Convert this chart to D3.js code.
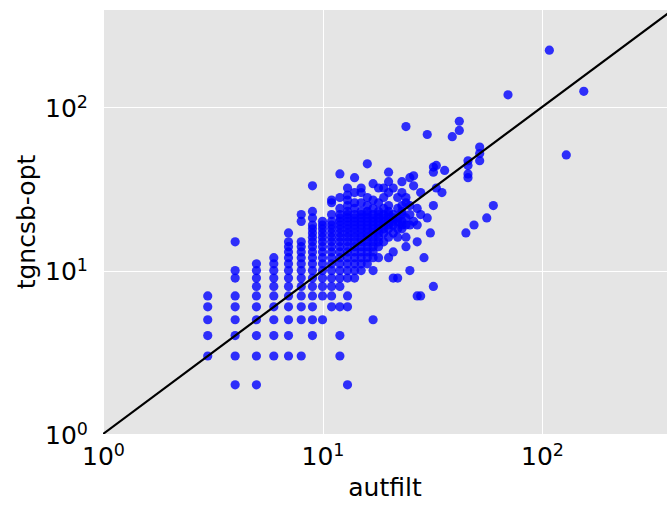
<!DOCTYPE html>
<html lang="en">
  <head>
    <meta charset="UTF-8"/>
    <title>autfilt vs tgncsb-opt</title>
    <script src="https://d3js.org/d3.v7.min.js"></script>
    <style>
      body { margin: 0; background: #fff; }
      text { font-family: 'DejaVu Sans', sans-serif; fill: #000; }
      .tick-label { font-size: 25px; }
      .axis-label { font-size: 25px; }
      .grid line { stroke: #fff; stroke-width: 1px; shape-rendering: crispEdges; }
      .grid path { display: none; }
      circle { fill: blue; fill-opacity: 0.8; }
    </style>
  </head>
  <body>
    <script>
      // autfilt values (x), and for each one the tgncsb-opt values seen (y)
      const columnX = [3, 4, 5, 6, 7, 8, 9, 10, 11, 12, 13, 14, 15, 16, 17, 18, 19, 20,
                       21, 22, 23, 24, 25, 26, 27, 28, 29, 30, 31, 32, 33, 35, 36, 39,
                       42, 45, 46, 49, 52, 56, 60, 70, 108, 129, 155]
      const columnY = [
        [3, 4, 5, 6, 7],
        [2, 3, 4, 5, 6, 7, 9, 10, 15],
        [2, 3, 4, 5, 6, 7, 8, 9, 10, 11],
        [3, 4, 5, 6, 7, 8, 9, 10, 11, 12],
        [3, 4, 5, 6, 7, 8, 9, 10, 11, 12, 13, 14, 15, 17],
        [3, 5, 6, 7, 8, 9, 10, 11, 12, 13, 14, 15, 20, 22],
        [4, 5, 6, 7, 8, 9, 10, 11, 12, 13, 14, 15, 16, 17, 18, 19, 21, 23, 33],
        [5, 7, 8, 9, 10, 11, 12, 13, 14, 15, 16, 17, 18, 19, 20],
        [6, 7, 8, 9, 10, 11, 12, 13, 14, 15, 16, 17, 18, 19, 20, 22, 26, 27],
        [3, 4, 6, 8, 9, 10, 11, 12, 13, 14, 15, 16, 17, 18, 19, 20, 21, 22, 24, 28, 39],
        [2, 6, 7, 9, 10, 11, 12, 13, 14, 15, 16, 17, 18, 19, 20, 21, 22, 23, 25, 27, 29, 32],
        [9, 10, 11, 12, 13, 14, 15, 16, 17, 18, 19, 20, 21, 22, 24, 26, 30, 37],
        [10, 11, 12, 13, 14, 15, 16, 17, 18, 19, 20, 21, 22, 23, 26, 30, 32],
        [11, 12, 13, 14, 15, 16, 17, 18, 19, 20, 21, 22, 23, 25, 28, 45],
        [5, 10, 12, 13, 14, 15, 16, 17, 18, 19, 20, 21, 22, 24, 27, 34],
        [12, 14, 15, 16, 17, 18, 19, 20, 21, 22, 23, 26, 32],
        [15, 17, 18, 19, 20, 21, 22, 24, 28, 32],
        [12, 16, 18, 19, 20, 21, 22, 23, 25, 30, 35, 40],
        [9, 13, 17, 19, 20, 21, 22, 32],
        [9, 16, 18, 20, 21, 24, 28],
        [18, 19, 20, 22, 23, 25, 30, 35],
        [14, 16, 19, 21, 26, 28, 76],
        [10, 19, 22, 25, 37],
        [20, 33, 38],
        [7, 15, 19, 24],
        [7, 22, 30],
        [12],
        [21, 68],
        [17],
        [8, 25, 40, 43],
        [32, 44],
        [30],
        [41],
        [66],
        [72, 82],
        [17],
        [37, 39, 44, 47],
        [19],
        [47, 52, 57],
        [21],
        [25],
        [119],
        [223],
        [51],
        [125]
      ]
      const xDomain = [1, 371]
      const yDomain = [1, 393]
      const decades = [1, 10, 100]
      const xAxisLabel = "autfilt"
      const yAxisLabel = "tgncsb-opt"

      const points = columnX.flatMap((xv, i) => columnY[i].map(yv => ({x: xv, y: yv})))

      const outerWidth = 667,
            outerHeight = 505,
            margin = {top: 10, right: 0, bottom: 71, left: 103},
            width = outerWidth - margin.left - margin.right,
            height = outerHeight - margin.top - margin.bottom

      const svg = d3.select("body").append("svg")
          .attr("width", outerWidth)
          .attr("height", outerHeight)

      const g = svg.append("g")
          .attr("transform", `translate(${margin.left},${margin.top})`)

      const xScale = d3.scaleLog().domain(xDomain).range([0, width])
      const yScale = d3.scaleLog().domain(yDomain).range([height, 0])

      g.append("rect")
          .attr("width", width)
          .attr("height", height)
          .attr("fill", "#e5e5e5")

      // grid lines
      g.append("g")
          .attr("class", "grid")
          .attr("transform", `translate(0,${height})`)
          .call(d3.axisBottom(xScale).tickValues(decades).tickSize(-height).tickFormat(""))

      g.append("g")
          .attr("class", "grid")
          .call(d3.axisLeft(yScale).tickValues(decades).tickSize(-width).tickFormat(""))

      svg.append("clipPath").attr("id", "plot-clip")
        .append("rect")
          .attr("width", width)
          .attr("height", height)

      const plot = g.append("g").attr("clip-path", "url(#plot-clip)")

      plot.selectAll("circle")
          .data(points)
          .join("circle")
          .attr("cx", d => xScale(d.x))
          .attr("cy", d => yScale(d.y))
          .attr("r", 4.6)

      const lineEnd = Math.max(xDomain[1], yDomain[1])
      plot.append("line")
          .attr("x1", xScale(1))
          .attr("y1", yScale(1))
          .attr("x2", xScale(lineEnd))
          .attr("y2", yScale(lineEnd))
          .attr("stroke", "#000")
          .attr("stroke-width", 2.2)

      // power-of-ten tick labels
      const powLabel = (sel, d) => {
        sel.append("tspan").text("10")
        sel.append("tspan")
            .attr("dy", "-0.5em")
            .attr("font-size", "17.5px")
            .text(Math.round(Math.log10(d)))
      }

      const xAxisG = g.append("g")
          .attr("transform", `translate(0,${height})`)
      xAxisG.call(d3.axisBottom(xScale).tickValues(decades).tickSize(0).tickFormat(""))
      xAxisG.select(".domain").remove()
      xAxisG.selectAll(".tick").append("text")
          .attr("class", "tick-label")
          .attr("text-anchor", "middle")
          .attr("y", 31)
          .each(function(d) { powLabel(d3.select(this), d) })

      const yAxisG = g.append("g")
      yAxisG.call(d3.axisLeft(yScale).tickValues(decades).tickSize(0).tickFormat(""))
      yAxisG.select(".domain").remove()
      yAxisG.selectAll(".tick").append("text")
          .attr("class", "tick-label")
          .attr("text-anchor", "end")
          .attr("x", -15)
          .attr("y", 9)
          .each(function(d) { powLabel(d3.select(this), d) })

      xAxisG.append("text")
          .attr("class", "axis-label")
          .attr("text-anchor", "middle")
          .attr("x", width / 2)
          .attr("y", 62)
          .text(xAxisLabel)

      yAxisG.append("text")
          .attr("class", "axis-label")
          .attr("text-anchor", "middle")
          .attr("transform", "rotate(-90)")
          .attr("x", -height / 2)
          .attr("y", -68)
          .text(yAxisLabel)
    </script>
  </body>
</html>
